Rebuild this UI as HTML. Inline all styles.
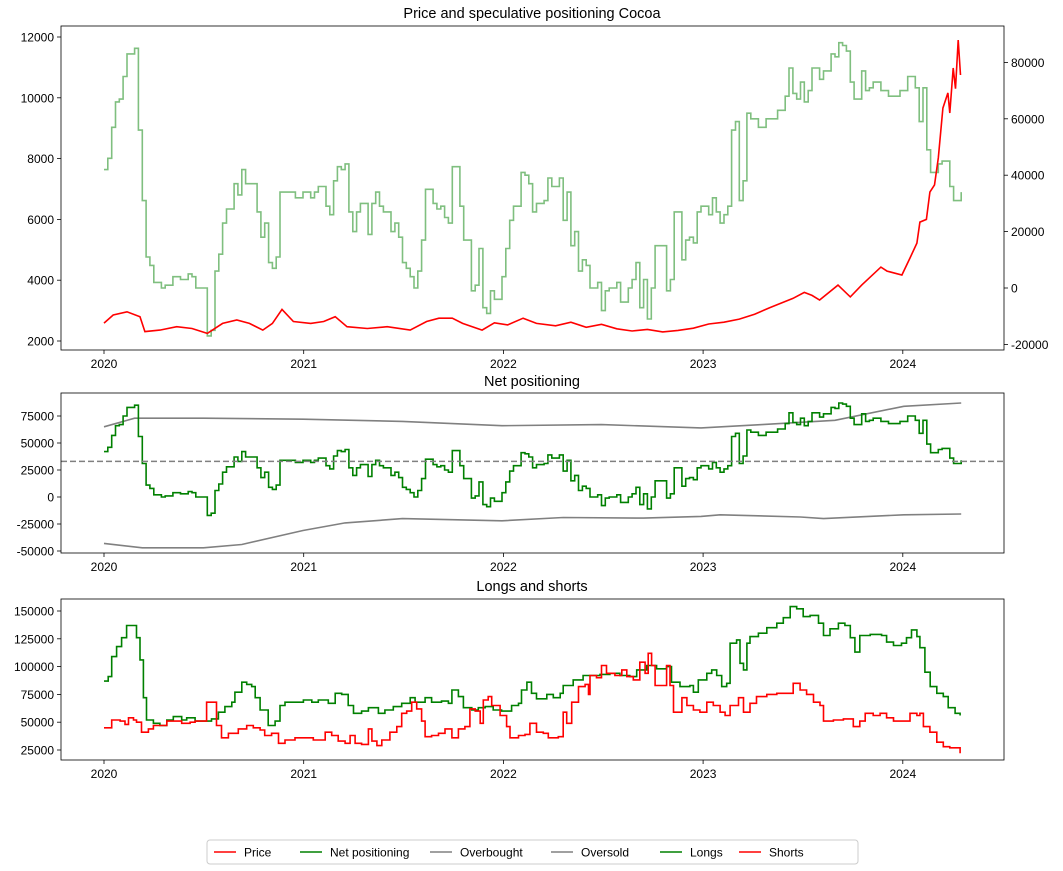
<!DOCTYPE html>
<html><head><meta charset="utf-8"><style>
body{margin:0;background:#fff;font-family:"Liberation Sans","DejaVu Sans",sans-serif}
svg text{font-family:"Liberation Sans","DejaVu Sans",sans-serif;fill:#000}
</style></head><body>
<svg id="c" width="1063" height="866" xmlns="http://www.w3.org/2000/svg"></svg>
<script>
// ---- data (weeks since 2020-01-01) ----
const longWeeks=[0,1.1,2,3.3,4.6,5.9,7.7,8.5,9.4,10.3,11.1,12.9,14.6,16.4,18.1,20.3,21.6,23.8,26.4,28.1,29.9,31.6,33.4,34.2,36,37.3,38.6,39.5,40.8,42.9,44.7,46,47.3,49.9,52.1,54.3,56,58.6,60.4,62.1,63.8,65.2,67.3,69.1,71.7,73.4,75.6,77.8,80,81.3,83.9,85.6,88.2,90,90.9,92.6,93.9,96.1,97.8,99.6,101.7,103.9,106.5,108.3,109.1,110.5,111.7,113,115.7,117.4,119.2,120,122.6,125.2,127,129.6,132.2,134.8,137.4,139.2,141.8,144.4,147,148.3,150.5,153.1,154,155.3,157.5,158.8,160.1,161.4,162.7,163.6,165.3,166.2,167.1,168,168.8,171,173.2,175.8,177.5,179.3,181,182.7,184.5,186.7,188,189.7,191.9,193.6,195,196.2,197.5,200.2,203.2,204.5,206.3,208.4,209.7,211,212.4,213.2,214.5,215.9,217.6,219.3,220.6,222.4,223.7];
const longValues=[87,91,109,118,126,137,137,126,106,72,52,49,47,52,55,52,54,51,51,53,59,64,68,77,86,84,82,72,61,47,51,65,68,68,70,68,70,67,76,75,65,58,60,63,58,61,64,67,72,68,72,68,69,67,79,73,63,61,63,64,61,60,65,67,79,86,76,71,75,72,76,83,88,92,92,93,94,92,91,97,101,98,100,86,82,83,77,88,94,97,92,82,85,121,124,103,97,121,127,130,135,139,144,154,152,145,146,139,128,134,139,137,126,113,128,129,128,122,119,121,126,133,127,117,95,82,76,73,63,58,56].map(v=>v*1000);
const shortWeeks=[0,2,4.2,5.5,6.4,7.7,8.5,9.8,11.6,12.9,16.4,20.3,22.5,23.8,26.8,29.4,30.7,32.5,35.1,37.3,39,40.8,42,43.8,45.6,47.3,49.9,54.7,57.8,59.5,61.2,63,64.3,65.6,67.3,69.1,70,71.3,72.6,74.7,76.5,77.8,79.1,80.4,81.7,83,83.9,85.6,87.4,89.1,90.9,92.6,94.3,95.6,97,98.3,99.1,100.4,101.3,103.5,105.2,106.1,108.3,110,111.3,113,114.8,116.1,118.7,120,120.9,122.2,124,125.7,126.6,127,128.7,130,131.3,133.5,135.3,136.6,138.3,140,141.4,142.2,143.1,144,145.7,147,147.9,148.8,151,152.3,154,155.7,157.5,159.2,161,162.3,163.6,165.8,167.1,168.8,170.5,173.2,175.8,180.1,181.9,183.6,185.4,187.1,188,190.6,193.2,195.8,197.5,198.9,201,202.8,204.5,206.3,210.6,212.4,213.2,214.1,215.8,217.6,219.3,221,223.7];
const shortValues=[45,52,51,48,54,52,50,41,44,47,51,49,50,51,68,47,36,40,44,47,45,43,38,40,31,34,36,34,41,38,33,31,38,31,30,44,33,29,34,41,46,58,60,68,62,51,37,38,40,44,36,44,46,62,60,49,70,73,65,56,46,36,38,39,49,41,40,36,37,59,49,68,82,84,75,92,90,101,94,92,97,91,88,104,94,112,101,83,83,101,83,59,72,65,61,59,68,65,59,56,65,72,59,67,73,75,76,85,79,75,68,65,51,52,53,46,51,58,56,58,54,51,58,56,58,46,41,32,28,27,22].map(v=>v*1000);
const priceWeeks=[0,2.4,6,9.4,10.7,14.6,19,23,27,31,34.7,38,41.5,44,46.5,49.5,54,57.4,60.4,63.5,68.8,74,80,84.3,87.5,91,93.7,98.8,102,105.5,109.5,113,118,122,126,130,134,138,142,146,150,154,158,162,166,170,174,177,180,183,185,187,191.8,195,198,203,204.6,208.5,210.6,212.4,213.2,214.9,215.8,217,218,219.2,220.5,221,221.9,222.5,223.2,223.8];
const priceValues=[2590,2855,2960,2800,2310,2360,2470,2410,2250,2580,2690,2580,2360,2580,3040,2640,2580,2640,2800,2470,2410,2470,2360,2640,2750,2750,2580,2360,2600,2530,2750,2580,2500,2620,2450,2550,2400,2330,2380,2300,2350,2420,2560,2620,2720,2880,3100,3250,3400,3600,3500,3350,3840,3450,3840,4430,4300,4170,4730,5220,5910,6000,6900,7130,8020,9660,10160,9500,10980,10300,11900,10750];
const obWeeks=[0,8,26,52,78,104,130,156,172,191,209,224];
const obValues=[65000,73000,73000,72000,70000,66000,67000,64000,67000,71000,84000,87000];
const osWeeks=[0,10,26,36,52,63,78,104,120,141,156,161,182,188,209,224];
const osValues=[-43000,-47000,-47000,-44000,-31000,-24000,-20000,-22000,-19000,-19500,-18000,-16500,-18500,-20000,-16500,-15700];
const netMean=33000;
const yearTicks=[2020,2021,2022,2023,2024];
const p1LeftTicks=[2000,4000,6000,8000,10000,12000];
const p1RightTicks=[-20000,0,20000,40000,60000,80000];
const p2Ticks=[-50000,-25000,0,25000,50000,75000];
const p3Ticks=[25000,50000,75000,100000,125000,150000];

const svg=document.getElementById('c');
const NS='http://www.w3.org/2000/svg';
function mk(tag,attrs,parent,txt){const e=document.createElementNS(NS,tag);for(const k in attrs)e.setAttribute(k,attrs[k]);if(txt!==undefined)e.textContent=txt;(parent||svg).appendChild(e);return e;}
const xW=w=>104+w*3.827;
const xY=y=>104+(y-2020)*199.7;
function stepAt(ws,vs,w){let v=vs[0];for(let i=0;i<ws.length;i++){if(Math.round(ws[i])<=w)v=vs[i];else break;}return v;}
const lastW=Math.round(Math.max(longWeeks[longWeeks.length-1],shortWeeks[shortWeeks.length-1]));
const netWeeks=[];for(let w=0;w<=lastW;w++)netWeeks.push(w);
const netValues=netWeeks.map(w=>stepAt(longWeeks,longValues,w)-stepAt(shortWeeks,shortValues,w));

function stepPath(ws,vs,fy){let d='';for(let i=0;i<ws.length;i++){const x=xW(ws[i]).toFixed(1),y=fy(vs[i]).toFixed(1);if(i==0)d+='M'+x+','+y;else d+='H'+x+'V'+y;}return d;}
function linePath(ws,vs,fy){return ws.map((w,i)=>(i?'L':'M')+xW(w).toFixed(1)+','+fy(vs[i]).toFixed(1)).join('');}

function axes(name,top,bot,ticks,fy,title,titleY){
  const g=mk('g',{},svg);
  
  
  const t=mk('text',{x:532,y:titleY,'font-size':14.5,'text-anchor':'middle'},g,title);
  
  
  yearTicks.forEach(y=>{const x=xY(y);mk('line',{x1:x,x2:x,y1:bot,y2:bot+4,stroke:'#000','stroke-width':0.8},g);
    const l=mk('text',{x:x,y:bot+18,'font-size':12,'text-anchor':'middle'},g,String(y));
    
    });
  ticks.forEach(v=>{const y=fy(v);mk('line',{x1:57,x2:61,y1:y,y2:y,stroke:'#000','stroke-width':0.8},g);
    const l=mk('text',{x:54,y:y+4.5,'font-size':12,'text-anchor':'end'},g,String(v));
    
    });
  return g;
}
function frame(top,bot){mk('rect',{x:61,y:top,width:943,height:bot-top,fill:'none',stroke:'#000','stroke-width':0.8});}

// Panel 1
const fP=p=>341-(p-2000)*0.0304;
const fR=v=>288-v*0.00282;
const g1=axes('price-panel',26,350,p1LeftTicks,fP,'Price and speculative positioning Cocoa',18);
p1RightTicks.forEach(v=>{const y=fR(v);mk('line',{x1:1004,x2:1008,y1:y,y2:y,stroke:'#000','stroke-width':0.8},g1);
  const l=mk('text',{x:1011,y:y+4.5,'font-size':12},g1,String(v));
  
  });
let e=mk('path',{d:stepPath(netWeeks,netValues,fR),fill:'none',stroke:'green','stroke-opacity':0.5,'stroke-width':1.6});


e=mk('path',{d:linePath(priceWeeks,priceValues,fP),fill:'none',stroke:'red','stroke-width':1.6});


frame(26,350);

// Panel 2
const fN=v=>497-v*0.00108;
axes('net-panel',393,553,p2Ticks,fN,'Net positioning',386);
e=mk('path',{d:linePath(obWeeks,obValues,fN),fill:'none',stroke:'gray','stroke-width':1.6});


e=mk('path',{d:linePath(osWeeks,osValues,fN),fill:'none',stroke:'gray','stroke-width':1.6});


e=mk('path',{d:stepPath(netWeeks,netValues,fN),fill:'none',stroke:'green','stroke-width':1.6});


e=mk('line',{x1:61,x2:1004,y1:fN(netMean),y2:fN(netMean),stroke:'gray','stroke-width':1.5,'stroke-dasharray':'6,3'});


frame(393,553);

// Panel 3
const fL=v=>611-(v-150000)*0.001112;
axes('longs-shorts-panel',599,760,p3Ticks,fL,'Longs and shorts',591);
e=mk('path',{d:stepPath(longWeeks,longValues,fL),fill:'none',stroke:'green','stroke-width':1.6});


e=mk('path',{d:stepPath(shortWeeks,shortValues,fL),fill:'none',stroke:'red','stroke-width':1.6});


frame(599,760);

// Legend
const lg=mk('g',{});


mk('rect',{x:207,y:840,width:651,height:24,rx:3,fill:'#fff',stroke:'#ccc'},lg);
const legNames=['Price','Net positioning','Overbought','Oversold','Longs','Shorts'];
const legColors=['red','green','gray','gray','green','red'];
const legX=[214,300,430,551,660,739];
legNames.forEach((n,i)=>{const it=mk('g',{},lg);
  
  
  mk('line',{x1:legX[i],x2:legX[i]+22,y1:852,y2:852,stroke:legColors[i],'stroke-width':1.6},it);
  mk('text',{x:legX[i]+30,y:856.5,'font-size':12},it,n);});
</script>
</body></html>
